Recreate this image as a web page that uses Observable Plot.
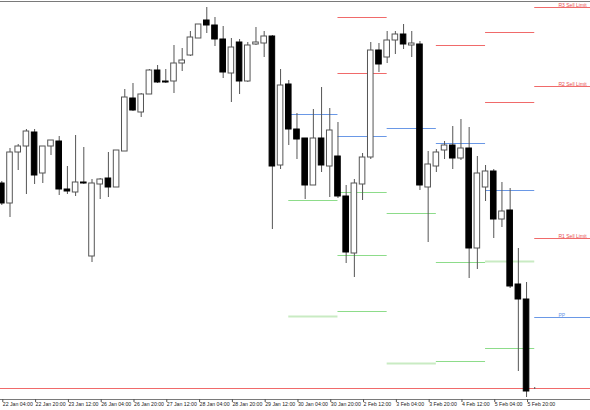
<!DOCTYPE html>
<html><head><meta charset="utf-8">
<script src="https://cdn.jsdelivr.net/npm/d3@7"></script>
<script src="https://cdn.jsdelivr.net/npm/@observablehq/plot@0.6"></script>
<style>body{margin:0;background:#fff;overflow:hidden} #chart{width:590px;height:410px}</style>
</head><body><div id="chart"></div>
<script>
// H4 candles, 22 Jan 04:00 .. 6 Feb 00:00
const open  = [1.1817,1.1797,1.1848,1.1854,1.1868,1.1827,1.1854,1.1859,1.1811,1.1808,1.1818,1.1744,1.1816,1.1822,1.1813,1.1849,1.1902,1.1888,1.1906,1.1930,1.1919,1.1919,1.1937,1.1945,1.1962,1.1980,1.1975,1.1961,1.1927,1.1958,1.1919,1.1956,1.1957,1.1964,1.1835,1.1916,1.1871,1.1862,1.1815,1.1862,1.1834,1.1844,1.1804,1.1747,1.1816,1.1843,1.1950,1.1943,1.1960,1.1966,1.1955,1.1956,1.1813,1.1834,1.1850,1.1855,1.1842,1.1852,1.1752,1.1813,1.1829,1.1781,1.1790,1.1716,1.1701,1.1612];
const high  = [1.1819,1.1852,1.1856,1.1871,1.1871,1.1854,1.1860,1.1864,1.1834,1.1865,1.1853,1.1821,1.1822,1.1848,1.1850,1.1911,1.1917,1.1907,1.1931,1.1935,1.1931,1.1955,1.1952,1.1969,1.1976,1.1993,1.1983,1.1974,1.1962,1.1961,1.1958,1.1973,1.1969,1.1965,1.1931,1.1920,1.1887,1.1862,1.1891,1.1913,1.1892,1.1878,1.1815,1.1821,1.1847,1.1958,1.1957,1.1969,1.1969,1.1976,1.1969,1.1959,1.1849,1.1851,1.1859,1.1874,1.1881,1.1873,1.1844,1.1835,1.1831,1.1818,1.1812,1.1752,1.1718,1.1613];
const low   = [1.1795,1.1783,1.1830,1.1806,1.1816,1.1817,1.1845,1.1805,1.1806,1.1804,1.1816,1.1738,1.1801,1.1803,1.1813,1.1849,1.1889,1.1883,1.1906,1.1917,1.1917,1.1907,1.1929,1.1944,1.1962,1.1967,1.1954,1.1922,1.1898,1.1906,1.1918,1.1955,1.1943,1.1771,1.1831,1.1855,1.1841,1.1801,1.1815,1.1828,1.1803,1.1802,1.1737,1.1723,1.1800,1.1841,1.1928,1.1937,1.1946,1.1951,1.1943,1.1810,1.1758,1.1828,1.1841,1.1831,1.1840,1.1722,1.1731,1.1799,1.1762,1.1773,1.1712,1.1629,1.1603,1.1611];
const close = [1.1797,1.1848,1.1854,1.1869,1.1825,1.1854,1.1860,1.1811,1.1809,1.1818,1.1817,1.1817,1.1821,1.1813,1.1850,1.1903,1.1890,1.1906,1.1930,1.1918,1.1918,1.1937,1.1940,1.1963,1.1976,1.1975,1.1961,1.1928,1.1953,1.1919,1.1955,1.1958,1.1964,1.1834,1.1915,1.1871,1.1861,1.1815,1.1862,1.1835,1.1870,1.1804,1.1748,1.1817,1.1843,1.1950,1.1936,1.1960,1.1966,1.1956,1.1957,1.1815,1.1836,1.1848,1.1855,1.1842,1.1852,1.1752,1.1827,1.1829,1.1781,1.1789,1.1714,1.1701,1.1609,1.1612];

// x-axis tick labels (every 4th bar)
const tickLabels = ["22 Jan 04:00","22 Jan 20:00","23 Jan 12:00","26 Jan 04:00","26 Jan 20:00","27 Jan 12:00","28 Jan 04:00","28 Jan 20:00","29 Jan 12:00","30 Jan 04:00","30 Jan 20:00","2 Feb 12:00","3 Feb 04:00","3 Feb 20:00","4 Feb 12:00","5 Feb 04:00","5 Feb 20:00"];
const tickEvery = 4;

// daily pivot levels: bar index where each day starts
const dayStart = [35, 41, 47, 53, 59, 65];
const pivotDay   = [0,0,0, 1,1,1,1,1,1, 2,2,2, 3,3,3,3, 4,4,4,4,4, 5,5,5,5];
const pivotLevel = [1.1886,1.1800,1.1684, 1.1983,1.1927,1.1864,1.1808,1.1745,1.1689, 1.1872,1.1787,1.1637, 1.1955,1.1857,1.1738,1.1639, 1.1968,1.1898,1.1810,1.1739,1.1652, 1.1993,1.1914,1.1762,1.1683];
const pivotKind  = ["pp","s","sf", "r","r","pp","s","s","s", "pp","s","sf", "r","pp","s","s", "r","r","pp","sf","s", "r","r","r","pp"];
const lastLabels = ["R3 Sell Limit","R2 Sell Limit","R1 Sell Limit","PP"];
const bidPrice = 1.1612;

const xDomain = [-0.16, 71.8];
const yDomain = [1.1601, 1.1999];

const colours = {r:"#f06a6a", pp:"#6a98e6", s:"#8ddc8a", sf:"#c9ebc3"};

const candles = open.map((o, i) => ({i, open:o, high:high[i], low:low[i], close:close[i], up: close[i] > o}));
const segments = pivotLevel.map((lv, k) => {
  const d = pivotDay[k];
  return {x1: dayStart[d], x2: d + 1 < dayStart.length ? dayStart[d + 1] : xDomain[1], level: lv, kind: pivotKind[k]};
});
const lastDay = dayStart.length - 1;
const labelRows = segments.filter(s => s.x1 === dayStart[lastDay]).map((s, j) => ({level: s.level, text: lastLabels[j], kind: s.kind}));
const tickIdx = tickLabels.map((_, j) => j * tickEvery);

const chart = Plot.plot({
  width: 590, height: 410,
  marginTop: 1, marginBottom: 11, marginLeft: 0, marginRight: 0,
  style: {background: "#fff", fontFamily: "'Liberation Sans', Arial, sans-serif"},
  x: {type: "linear", domain: xDomain},
  y: {domain: yDomain, axis: null},
  color: {type: "identity"},
  marks: [
    Plot.ruleY([yDomain[1]], {stroke: "#7a7a7a"}),
    Plot.ruleY([yDomain[0]], {stroke: "#7a7a7a"}),
    Plot.axisX({ticks: tickIdx, tickFormat: d => tickLabels[Math.round(d / tickEvery)], tickSize: 3, tickPadding: 0,
      fontSize: 5.2, textAnchor: "start", dx: 1, stroke: "#555", fill: "#222"}),
    Plot.ruleY(segments.filter(s => s.kind !== "sf"), {y: "level", x1: "x1", x2: "x2", stroke: d => colours[d.kind], strokeWidth: 1}),
    Plot.ruleY(segments.filter(s => s.kind === "sf"), {y: "level", x1: "x1", x2: "x2", stroke: d => colours[d.kind], strokeWidth: 2}),
    Plot.ruleY([bidPrice], {stroke: colours.r}),
    Plot.ruleX(candles, {x: "i", y1: "low", y2: "high", stroke: "#555"}),
    Plot.rect(candles, {x1: d => d.i - 0.34, x2: d => d.i + 0.34, y1: "open", y2: "close",
      fill: d => d.up ? "#fff" : "#000", stroke: d => d.up ? "#555" : "#000", strokeWidth: 1}),
    Plot.text(labelRows, {y: "level", text: "text", frameAnchor: "right", dx: -32, textAnchor: "start",
      lineAnchor: "bottom", dy: -1, fontSize: 5, fill: d => d.kind === "pp" ? colours.pp : "#e84f4f"})
  ]
});
document.getElementById("chart").appendChild(chart);
</script>
</body></html>
